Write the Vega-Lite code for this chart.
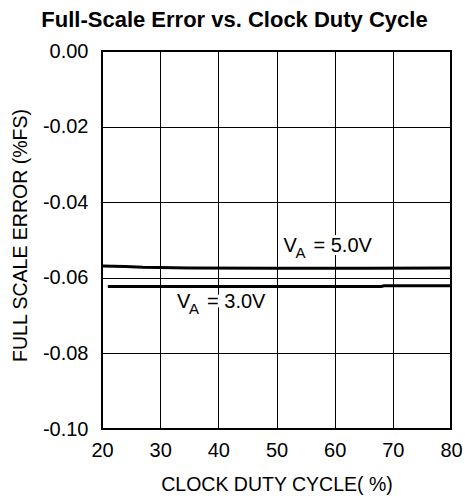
{
  "$schema": "https://vega.github.io/schema/vega-lite/v6.json",
  "width": 349,
  "height": 378,
  "autosize": {"type": "none"},
  "padding": {"left": 102, "top": 51, "right": 14, "bottom": 70},
  "background": "white",
  "config": {
    "font": "Liberation Sans",
    "view": {"stroke": "black", "strokeWidth": 2},
    "axis": {"grid": true, "gridColor": "black", "gridOpacity": 1, "gridWidth": 1, "domain": false, "ticks": false, "labelFlush": false, "labelOverlap": false, "labelColor": "black", "titleColor": "black", "labelFont": "Liberation Sans", "titleFont": "Liberation Sans", "titleFontWeight": "normal"}
  },
  "title": {"text": "Full-Scale Error vs. Clock Duty Cycle", "font": "Liberation Sans", "fontSize": 22, "fontWeight": "bold", "color": "black", "anchor": "middle", "dx": -42, "dy": 32, "baseline": "alphabetic", "offset": 24},
  "datasets": {
    "curves": [
      {"duty": 20, "err": -0.0569, "va": "5.0V"},
      {"duty": 24, "err": -0.0570, "va": "5.0V"},
      {"duty": 27, "err": -0.0572, "va": "5.0V"},
      {"duty": 35, "err": -0.0574, "va": "5.0V"},
      {"duty": 50, "err": -0.0575, "va": "5.0V"},
      {"duty": 65, "err": -0.0575, "va": "5.0V"},
      {"duty": 80, "err": -0.0574, "va": "5.0V"},
      {"duty": 21, "err": -0.0623, "va": "3.0V"},
      {"duty": 40, "err": -0.0623, "va": "3.0V"},
      {"duty": 68, "err": -0.0623, "va": "3.0V"},
      {"duty": 68.5, "err": -0.0621, "va": "3.0V"},
      {"duty": 80, "err": -0.0621, "va": "3.0V"}
    ],
    "notes": [
      {"duty": 51.2, "err": -0.0531, "sym": "V", "sub": "A", "rest": "= 5.0V"},
      {"duty": 32.9, "err": -0.0679, "sym": "V", "sub": "A", "rest": "= 3.0V"}
    ]
  },
  "layer": [
    {
      "data": {"name": "curves"},
      "mark": {"type": "line", "color": "black", "strokeWidth": 3},
      "encoding": {
        "x": {"field": "duty", "type": "quantitative", "scale": {"domain": [20, 80], "nice": false, "zero": false},
              "axis": {"title": "CLOCK DUTY CYCLE( %)", "values": [20, 30, 40, 50, 60, 70, 80], "labelFontSize": 20, "titleFontSize": 19.5, "labelPadding": 11, "titleY": 61, "titleBaseline": "alphabetic"}},
        "y": {"field": "err", "type": "quantitative", "scale": {"domain": [-0.1, 0], "nice": false, "zero": false},
              "axis": {"title": "FULL SCALE ERROR (%FS)", "values": [0, -0.02, -0.04, -0.06, -0.08, -0.1], "format": ".2f", "labelExpr": "replace(datum.label, '\u2212', '-')", "labelFontSize": 20, "titleFontSize": 19.5, "labelPadding": 14, "titleX": -82, "titleY": 184, "titleBaseline": "middle", "titleAlign": "center", "titleAngle": -90}},
        "detail": {"field": "va"}
      }
    },
    {
      "data": {"name": "notes"},
      "mark": {"type": "text", "align": "left", "baseline": "alphabetic", "fontSize": 20, "color": "white", "stroke": "white", "strokeWidth": 6},
      "encoding": {"x": {"field": "duty", "type": "quantitative"}, "y": {"field": "err", "type": "quantitative"}, "text": {"field": "sym"}}
    },
    {
      "data": {"name": "notes"},
      "mark": {"type": "text", "align": "left", "baseline": "alphabetic", "fontSize": 15, "dx": 12, "dy": 6.6, "color": "white", "stroke": "white", "strokeWidth": 6},
      "encoding": {"x": {"field": "duty", "type": "quantitative"}, "y": {"field": "err", "type": "quantitative"}, "text": {"field": "sub"}}
    },
    {
      "data": {"name": "notes"},
      "mark": {"type": "text", "align": "left", "baseline": "alphabetic", "fontSize": 20, "dx": 30, "color": "white", "stroke": "white", "strokeWidth": 6},
      "encoding": {"x": {"field": "duty", "type": "quantitative"}, "y": {"field": "err", "type": "quantitative"}, "text": {"field": "rest"}}
    },
    {
      "data": {"name": "notes"},
      "mark": {"type": "text", "align": "left", "baseline": "alphabetic", "fontSize": 20, "color": "black"},
      "encoding": {"x": {"field": "duty", "type": "quantitative"}, "y": {"field": "err", "type": "quantitative"}, "text": {"field": "sym"}}
    },
    {
      "data": {"name": "notes"},
      "mark": {"type": "text", "align": "left", "baseline": "alphabetic", "fontSize": 15, "dx": 12, "dy": 6.6, "color": "black"},
      "encoding": {"x": {"field": "duty", "type": "quantitative"}, "y": {"field": "err", "type": "quantitative"}, "text": {"field": "sub"}}
    },
    {
      "data": {"name": "notes"},
      "mark": {"type": "text", "align": "left", "baseline": "alphabetic", "fontSize": 20, "dx": 30, "color": "black"},
      "encoding": {"x": {"field": "duty", "type": "quantitative"}, "y": {"field": "err", "type": "quantitative"}, "text": {"field": "rest"}}
    }
  ]
}
